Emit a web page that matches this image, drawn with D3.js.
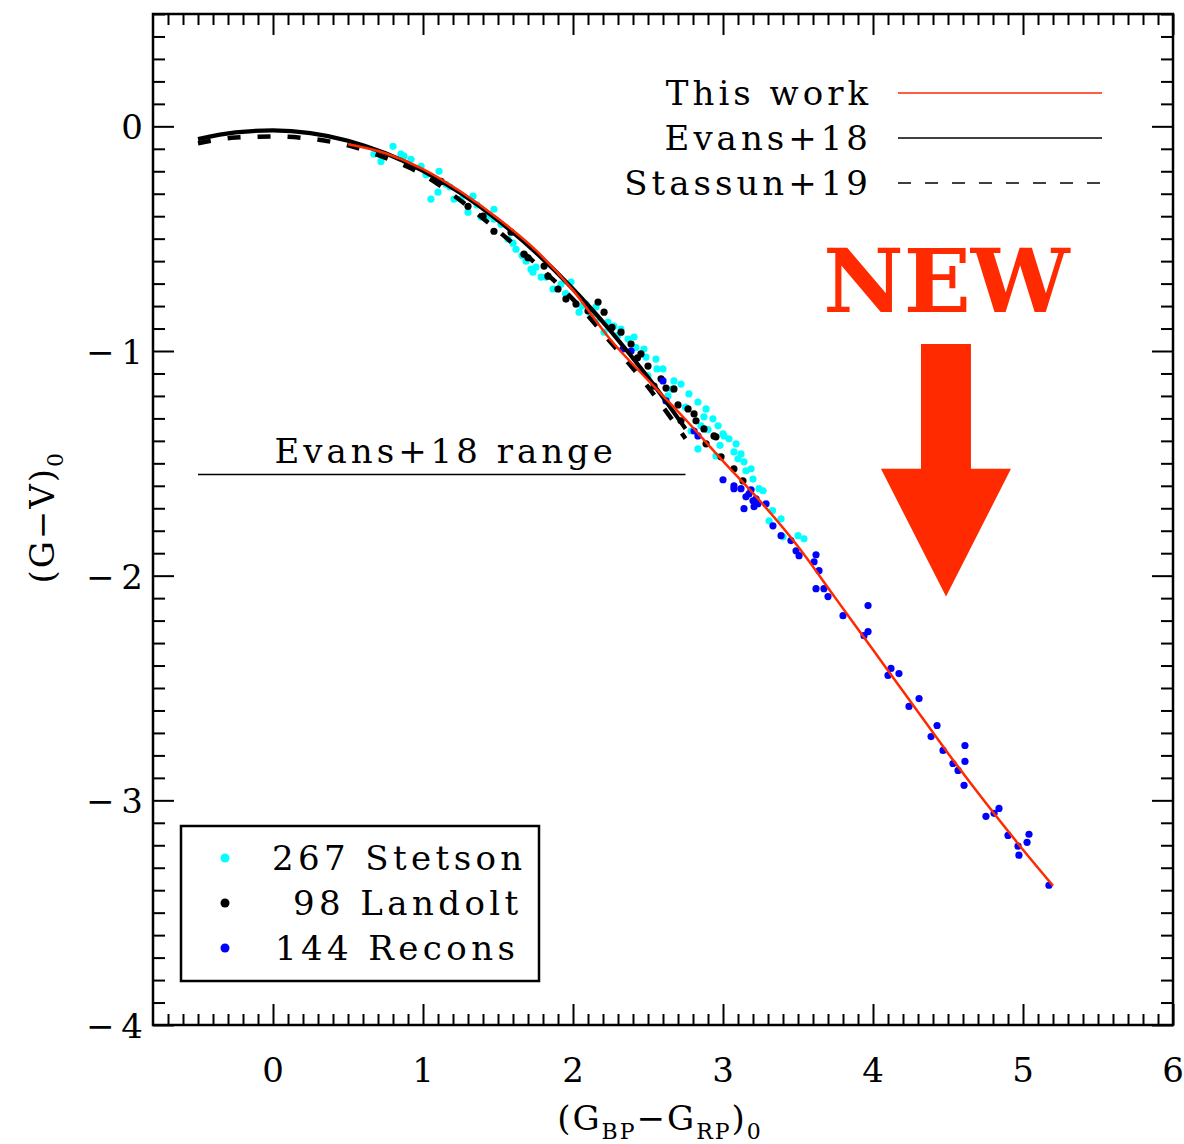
<!DOCTYPE html>
<html>
<head>
<meta charset="utf-8">
<script src="https://cdn.jsdelivr.net/npm/d3@7"></script>
<style>
  body { margin: 0; background: #fff; }
  text { font-family: "DejaVu Serif", "Liberation Serif", serif; fill: #000; }
</style>
</head>
<body>
<div id="chart"></div>
<script>
// ---- data ----
// Evans+18 relation (solid black), sampled along the drawn curve
const evansX = [-0.5, -0.25, 0, 0.25, 0.5, 0.75, 1.0, 1.25, 1.5, 1.75, 2.0, 2.25, 2.5, 2.75];
const evansY = [-0.057, -0.027, -0.018, -0.030, -0.064, -0.120, -0.198, -0.297, -0.418, -0.560, -0.724, -0.910, -1.117, -1.346];
// Stassun+19 relation (dashed black)
const stassunX = [-0.5, -0.25, 0, 0.25, 0.5, 0.75, 1.0, 1.25, 1.5, 1.75, 2.0, 2.25, 2.5, 2.75];
const stassunY = [-0.075, -0.050, -0.045, -0.055, -0.085, -0.140, -0.215, -0.330, -0.465, -0.610, -0.770, -0.960, -1.160, -1.390];
// this work (red)
const workX = [0.5, 0.75, 1.0, 1.25, 1.5, 1.75, 2.0, 2.25, 2.5, 2.75, 3.0, 3.25, 3.5, 3.75, 4.0, 4.25, 4.5, 4.75, 5.0, 5.2];
const workY = [-0.08, -0.12, -0.19, -0.29, -0.41, -0.55, -0.73, -0.95, -1.13, -1.305, -1.49, -1.67, -1.87, -2.10, -2.33, -2.56, -2.79, -3.01, -3.22, -3.38];

// Stetson standards (cyan)
const stetson = [
  [0.673,-0.124],[0.72,-0.156],[0.80,-0.089],[0.853,-0.124],[0.873,-0.133],[0.92,-0.147],[0.987,-0.178],
  [1.053,-0.324],[1.10,-0.293],[1.107,-0.20],[1.153,-0.258],[1.207,-0.324],[1.253,-0.324],[1.30,-0.382],
  [1.333,-0.311],[1.387,-0.404],[1.433,-0.40],[1.473,-0.413],[1.473,-0.369],[1.52,-0.436],[1.567,-0.502],
  [1.62,-0.547],[1.687,-0.60],[1.72,-0.636],[1.733,-0.649],[1.753,-0.627],[1.787,-0.671],[1.82,-0.671],
  [1.867,-0.724],[1.92,-0.702],[1.987,-0.693],[2.04,-0.827],[2.087,-0.791],[2.153,-0.804],[2.153,-0.871],
  [2.207,-0.916],[2.233,-0.871],[2.273,-0.889],[2.32,-0.902],[2.367,-0.947],[2.407,-0.938],[2.473,-0.991],
  [2.487,-1.027],[2.50,-1.111],[2.553,-1.036],[2.60,-1.08],[2.633,-1.20],[2.673,-1.133],[2.72,-1.147],
  [2.773,-1.191],[2.787,-1.356],[2.833,-1.227],[2.833,-1.436],[2.853,-1.333],[2.873,-1.293],[2.887,-1.258],
  [2.933,-1.302],[2.953,-1.467],[2.967,-1.333],[3.0,-1.369],[3.007,-1.378],[3.04,-1.391],[3.073,-1.449],
  [3.087,-1.413],[3.12,-1.458],[3.14,-1.493],[3.153,-1.533],[3.187,-1.524],[3.24,-1.613],[3.267,-1.622],
  [3.307,-1.756],[3.387,-1.747],[3.40,-1.827],[3.50,-1.822],[3.54,-1.836],
  [1.02,-0.215],[1.18,-0.27],[1.36,-0.35],[1.60,-0.52],[1.66,-0.575],[1.95,-0.745],[2.06,-0.80],
  [2.12,-0.845],[2.30,-0.93],[2.42,-0.985],[2.56,-1.08],[2.66,-1.17],[2.75,-1.25],[2.90,-1.35],
  [2.98,-1.42],[3.10,-1.48],[3.20,-1.57],[3.33,-1.71]
];
// Landolt standards (black)
const landolt = [
  [1.30,-0.356],[1.473,-0.467],[1.587,-0.471],[1.673,-0.569],[1.807,-0.622],[1.833,-0.667],[1.90,-0.724],
  [1.953,-0.769],[2.02,-0.791],[2.10,-0.822],[2.167,-0.782],[2.207,-0.827],[2.32,-0.916],[2.387,-0.969],
  [2.453,-1.013],[2.50,-1.067],[2.54,-1.156],[2.587,-1.124],[2.673,-1.169],[2.72,-1.311],[2.767,-1.258],
  [2.807,-1.28],[2.82,-1.311],[2.873,-1.347],[2.887,-1.413],[2.94,-1.378],[2.953,-1.382],[2.987,-1.471],
  [3.073,-1.524],[3.133,-1.578],
  [1.12,-0.245],[1.40,-0.40],[1.70,-0.585],[2.26,-0.895],[2.43,-1.03],[2.62,-1.165],[2.70,-1.24]
];
// RECONS stars (blue)
const recons = [
  [2.333,-0.991],[2.387,-1.0],[2.60,-1.133],[2.62,-1.222],[2.807,-1.356],[2.833,-1.378],[3.0,-1.573],
  [3.073,-1.60],[3.073,-1.613],[3.12,-1.613],[3.14,-1.702],[3.153,-1.649],[3.173,-1.636],[3.187,-1.618],
  [3.20,-1.667],[3.207,-1.693],[3.22,-1.658],[3.233,-1.68],[3.287,-1.68],[3.333,-1.778],[3.387,-1.822],
  [3.453,-1.844],[3.487,-1.889],[3.507,-1.911],[3.62,-1.907],[3.607,-1.938],[3.64,-1.978],[3.62,-2.058],
  [3.673,-2.058],[3.70,-2.093],[3.80,-2.178],[3.967,-2.133],[3.94,-2.267],[3.967,-2.249],[4.10,-2.444],
  [4.12,-2.413],[4.173,-2.436],[4.24,-2.582],[4.307,-2.547],[4.387,-2.716],[4.427,-2.667],[4.467,-2.778],
  [4.533,-2.836],[4.567,-2.867],[4.613,-2.756],[4.613,-2.827],[4.607,-2.933],[4.753,-3.071],[4.807,-3.058],
  [4.84,-3.036],[4.90,-3.156],[4.967,-3.204],[4.973,-3.244],[5.027,-3.187],[5.04,-3.151],[5.173,-3.378]
];

const legendLines = ["This work", "Evans+18", "Stassun+19"];
const legendPoints = ["267 Stetson", "98 Landolt", "144 Recons"];
const xTicks = [0, 1, 2, 3, 4, 5, 6];
const yTicks = [0, -1, -2, -3, -4];
const evansRange = [-0.5, 2.75];
const evansRangeY = -1.55;

// ---- config ----
const config = {
  width: 1184,
  height: 1144,
  padding: {top: 14, right: 11, bottom: 119, left: 153}
};
config.innerWidth = config.width - config.padding.left - config.padding.right;
config.innerHeight = config.height - config.padding.top - config.padding.bottom;

const red = "#ff2a00";

const svg = d3.select("#chart").append("svg")
  .attr("width", config.width)
  .attr("height", config.height);
const g = svg.append("g")
  .attr("transform", `translate(${config.padding.left}, ${config.padding.top})`);

const scale = {
  x: d3.scaleLinear().domain([-0.8, 6]).range([0, config.innerWidth]),
  y: d3.scaleLinear().domain([-4, 0.5]).range([config.innerHeight, 0])
};

// ---- ticks on all four sides, pointing in ----
const minorX = d3.range(-7, 61).map(d => d / 10);
const minorY = d3.range(-40, 6).map(d => d / 10);
const isMajor = v => Math.abs(v - Math.round(v)) < 1e-6;

function tickAxis(axisFn, sc, vals, len, transform) {
  g.append("g").attr("transform", transform)
    .call(axisFn(sc).tickValues(vals).tickSize(len).tickFormat(""))
    .call(a => a.select(".domain").remove())
    .call(a => a.selectAll("line").attr("stroke", "#000").attr("stroke-width", 2));
}
const minX = minorX.filter(v => !isMajor(v)), majX = minorX.filter(isMajor);
const minY = minorY.filter(v => !isMajor(v)), majY = minorY.filter(isMajor);
tickAxis(d3.axisTop, scale.x, minX, 11, `translate(0,${config.innerHeight})`);
tickAxis(d3.axisTop, scale.x, majX, 21, `translate(0,${config.innerHeight})`);
tickAxis(d3.axisBottom, scale.x, minX, 11, "translate(0,0)");
tickAxis(d3.axisBottom, scale.x, majX, 21, "translate(0,0)");
tickAxis(d3.axisRight, scale.y, minY, 12, "translate(0,0)");
tickAxis(d3.axisRight, scale.y, majY, 21, "translate(0,0)");
tickAxis(d3.axisLeft, scale.y, minY, 12, `translate(${config.innerWidth},0)`);
tickAxis(d3.axisLeft, scale.y, majY, 21, `translate(${config.innerWidth},0)`);

// frame
g.append("rect")
  .attr("width", config.innerWidth).attr("height", config.innerHeight)
  .attr("fill", "none").attr("stroke", "#000").attr("stroke-width", 2.5);

// tick labels
g.selectAll(".xlab").data(xTicks).enter().append("text")
  .attr("class", "xlab")
  .attr("x", d => scale.x(d))
  .attr("y", config.innerHeight + 57)
  .attr("text-anchor", "middle")
  .attr("font-size", 34)
  .text(d => d);
g.selectAll(".ylab").data(yTicks).enter().append("text")
  .attr("class", "ylab")
  .attr("x", -3)
  .attr("y", d => scale.y(d) + 13)
  .attr("text-anchor", "end")
  .attr("font-size", 34)
  .attr("letter-spacing", 7)
  .text(d => d === 0 ? "0" : "\u2212" + Math.abs(d));

// axis titles
const xt = g.append("text")
  .attr("x", 507)
  .attr("y", config.innerHeight + 105)
  .attr("text-anchor", "middle")
  .attr("letter-spacing", 2)
  .attr("font-size", 34);
xt.append("tspan").text("(G");
xt.append("tspan").attr("font-size", 22).attr("dy", 9).text("BP");
xt.append("tspan").attr("dy", -9).text("\u2212G");
xt.append("tspan").attr("font-size", 22).attr("dy", 9).text("RP");
xt.append("tspan").attr("dy", -9).text(")");
xt.append("tspan").attr("font-size", 22).attr("dy", 9).text("0");

const yt = g.append("text")
  .attr("transform", `translate(-99, ${scale.y(-1.74)}) rotate(-90)`)
  .attr("text-anchor", "middle")
  .attr("letter-spacing", 2)
  .attr("font-size", 34);
yt.append("tspan").text("(G\u2212V)");
yt.append("tspan").attr("font-size", 22).attr("dy", 9).text("0");

// ---- scatter ----
const plotPts = (data, color, cls) => {
  g.selectAll("." + cls).data(data).enter().append("circle")
    .attr("class", cls)
    .attr("cx", d => scale.x(d[0]))
    .attr("cy", d => scale.y(d[1]))
    .attr("r", 3.6)
    .attr("fill", color);
};
plotPts(stetson, "#00ffff", "stetson");
plotPts(landolt, "#000000", "landolt");
plotPts(recons, "#0000ff", "recons");

// ---- relations ----
const line = d3.line().curve(d3.curveMonotoneX)
  .x(d => scale.x(d[0])).y(d => scale.y(d[1]));
const zip = (xs, ys) => xs.map((x, i) => [x, ys[i]]);

g.append("path").datum(zip(stassunX, stassunY))
  .attr("d", line).attr("fill", "none").attr("stroke", "#000")
  .attr("stroke-width", 4.5).attr("stroke-dasharray", "13,17");
g.append("path").datum(zip(evansX, evansY))
  .attr("d", line).attr("fill", "none").attr("stroke", "#000")
  .attr("stroke-width", 4.2);
g.append("path").datum(zip(workX, workY))
  .attr("d", line).attr("fill", "none").attr("stroke", red)
  .attr("stroke-width", 2.5);

// Evans+18 range bar
g.append("line")
  .attr("x1", scale.x(evansRange[0])).attr("x2", scale.x(evansRange[1]))
  .attr("y1", scale.y(evansRangeY)).attr("y2", scale.y(evansRangeY))
  .attr("stroke", "#000").attr("stroke-width", 1.5);
g.append("text")
  .attr("x", (scale.x(evansRange[0]) + scale.x(evansRange[1])) / 2 + 4)
  .attr("y", scale.y(evansRangeY) - 12)
  .attr("text-anchor", "middle")
  .attr("letter-spacing", 4)
  .attr("font-size", 34)
  .text("Evans+18 range");

// ---- line legend (top right) ----
const lstyle = [
  {stroke: red, dash: null},
  {stroke: "#000", dash: null},
  {stroke: "#000", dash: "13,14"}
];
legendLines.forEach((name, i) => {
  const yy = 79 + i * 45;
  g.append("text").attr("x", 719).attr("y", yy + 12)
    .attr("text-anchor", "end").attr("letter-spacing", 4)
    .attr("font-size", 34).text(name);
  g.append("line").attr("x1", 745).attr("x2", 949).attr("y1", yy).attr("y2", yy)
    .attr("stroke", lstyle[i].stroke).attr("stroke-width", 1.5)
    .attr("stroke-dasharray", lstyle[i].dash);
});

// ---- point legend (bottom left) ----
g.append("rect").attr("x", 28).attr("y", 812).attr("width", 358).attr("height", 155)
  .attr("fill", "#fff").attr("stroke", "#000").attr("stroke-width", 2.5);
const pcol = ["#00ffff", "#000000", "#0000ff"];
const ptx = [119, 140, 122];
legendPoints.forEach((name, i) => {
  const yy = 844 + i * 45;
  g.append("circle").attr("cx", 72).attr("cy", yy).attr("r", 4.5).attr("fill", pcol[i]);
  g.append("text").attr("x", ptx[i]).attr("y", yy + 12)
    .attr("letter-spacing", 4.4).attr("font-size", 34).text(name);
});

// ---- NEW annotation ----
g.append("text")
  .attr("x", scale.x(4.49))
  .attr("y", 298)
  .attr("text-anchor", "middle")
  .attr("font-family", "Liberation Serif")
  .attr("font-weight", "bold")
  .attr("font-size", 88)
  .style("fill", red)
  .text("NEW");
const arrow = [
  [4.32, -0.969], [4.653, -0.969], [4.653, -1.524], [4.92, -1.524],
  [4.487, -2.093], [4.053, -1.524], [4.32, -1.524]
];
g.append("path")
  .attr("d", d3.line().x(d => scale.x(d[0])).y(d => scale.y(d[1]))(arrow) + "Z")
  .attr("fill", red);
</script>
</body>
</html>
